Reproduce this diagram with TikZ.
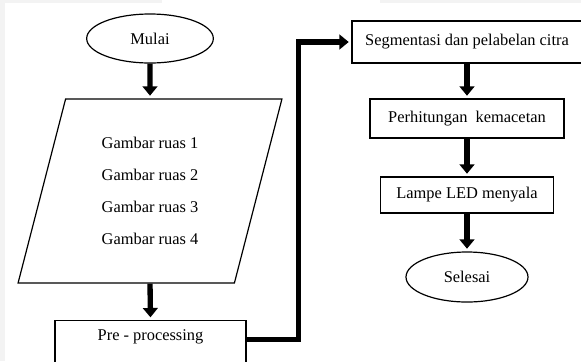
\documentclass[tikz,border=0pt]{standalone}
\usepackage{fontspec}
\setmainfont{Liberation Serif}
\usetikzlibrary{arrows.meta,shapes.geometric}
\definecolor{bggray}{RGB}{243,243,243}
\begin{document}
\begin{tikzpicture}[x=0.75pt,y=-0.75pt,
  every node/.style={font=\fontsize{12.3}{15}\selectfont},
  terminal/.style={ellipse,draw,line width=0.9pt,inner sep=0pt},
  process/.style={rectangle,draw,line width=0.9pt},
  inout/.style={trapezium,draw,line width=0.9pt,trapezium left angle=75.7,trapezium right angle=104.3,trapezium stretches=true},
  flow/.style={line width=4pt,-{Triangle[width=11pt,length=7pt]},shorten >=2pt}]
\useasboundingbox (0,0) rectangle (581,361);
\clip (0,0) rectangle (581,361);
\fill[bggray] (0,0) rectangle (581,361);
\fill[white] (5,3) rectangle (581,361);
\fill[white] (162,0) rectangle (380,3);

\node (mulai) at (150,38.5) [terminal, minimum width=95pt, minimum height=36.75pt] {Mulai};
\node (gambar) at (150,191) [inout, minimum width=198pt, minimum height=138pt, align=center, font=\fontsize{12.3}{24}\selectfont] {Gambar ruas 1\\Gambar ruas 2\\Gambar ruas 3\\Gambar ruas 4};
\node (pre) at (150.5,320) [process, anchor=north, minimum width=143.25pt, text height=11.75pt, text depth=30pt] {Pre - processing};
\node (seg) at (467,42) [process, minimum width=172.5pt, minimum height=31.5pt] {Segmentasi dan pelabelan citra};
\node (hitung) at (467,118.5) [process, minimum width=145.5pt, minimum height=29.25pt] {Perhitungan\ \ kemacetan};
\node (lampu) at (467,195) [process, minimum width=129.75pt, minimum height=27pt] {Lampe LED menyala};
\node (selesai) at (467,277) [terminal, minimum width=91.5pt, minimum height=37.5pt] {Selesai};

\draw [flow] (mulai.south) -- (gambar.north);
\draw [flow] (gambar.south) -- (pre.north);
\draw [flow] ([yshift=-14.6pt]pre.north east) -- ++(52,0) |- (seg.west);
\draw [flow] (seg.south) -- (hitung.north);
\draw [flow] (hitung.south) -- (lampu.north);
\draw [flow] (lampu.south) -- (selesai.north);
\end{tikzpicture}
\end{document}
